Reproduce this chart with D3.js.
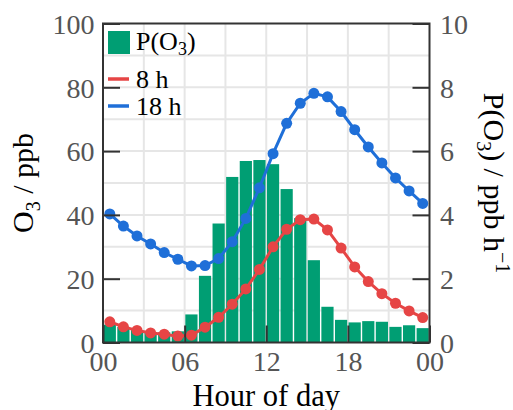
<!DOCTYPE html>
<html>
<head>
<meta charset="utf-8">
<script src="https://cdn.jsdelivr.net/npm/d3@7"></script>
<style>
  body { margin: 0; background: #fff; }
  text { font-family: "Liberation Serif", "Times New Roman", serif; }
</style>
</head>
<body>
<div id="chart"></div>
<script>
// hour of day (bin start), P(O3) bars on right axis, O3 lines on left axis
var hours = [0,1,2,3,4,5,6,7,8,9,10,11,12,13,14,15,16,17,18,19,20,21,22,23];
var pO3 = [0.56,0.49,0.39,0.33,0.32,0.35,0.88,2.09,3.73,5.19,5.69,5.72,5.59,4.81,3.9,2.58,1.12,0.71,0.63,0.67,0.65,0.49,0.54,0.45];
var o3_8h = [6.5,4.9,3.8,3.0,2.6,2.0,2.3,4.8,7.9,12.0,16.8,22.9,30.0,35.5,38.5,38.7,35.3,29.6,23.7,19.1,15.3,12.3,9.9,7.8];
var o3_18h = [40.3,36.5,33.4,30.9,28.2,26.1,24.0,24.1,26.3,31.6,38.9,48.5,59.2,68.7,75.0,78.1,77.0,72.4,66.7,61.3,56.3,51.6,47.5,43.6];

var xTicks = [0,6,12,18,24];
var xTickLabels = ["00","06","12","18","00"];
var yTicks = [0,20,40,60,80,100];
var y2Ticks = [0,2,4,6,8,10];

var green = "#009e73", red = "#e64545", blue = "#1f6fd8";

var width = 513, height = 410;
// note: "top" is a reserved window property, so prefix these
var plotLeft = 103, plotRight = 429.5, plotTop = 23.5, plotBottom = 342.5;

var svg = d3.select("#chart")
    .append("svg")
    .attr("width", width)
    .attr("height", height);

var x = d3.scaleLinear().domain([0, 24]).range([plotLeft, plotRight]);
var y = d3.scaleLinear().domain([0, 100]).range([plotBottom, plotTop]);
var y2 = d3.scaleLinear().domain([0, 10]).range([plotBottom, plotTop]);

// grid lines
svg.append("g").selectAll("line")
    .data([3,6,9,12,15,18,21])
    .enter().append("line")
    .attr("x1", function(d) { return x(d); })
    .attr("x2", function(d) { return x(d); })
    .attr("y1", plotTop).attr("y2", plotBottom)
    .style("stroke", "#e6e6e6").style("stroke-width", 2);

svg.append("g").selectAll("line")
    .data([10,20,30,40,50,60,70,80,90])
    .enter().append("line")
    .attr("x1", plotLeft).attr("x2", plotRight)
    .attr("y1", function(d) { return y(d); })
    .attr("y2", function(d) { return y(d); })
    .style("stroke", "#e6e6e6").style("stroke-width", 2);

// bars
svg.append("g").selectAll("rect")
    .data(hours)
    .enter().append("rect")
    .attr("x", function(d) { return x(d) + 0.7; })
    .attr("width", function(d) { return x(d + 1) - x(d) - 1.4; })
    .attr("y", function(d, i) { return y2(pO3[i]); })
    .attr("height", function(d, i) { return plotBottom - y2(pO3[i]); })
    .style("fill", green);

// lines with dots
function drawSeries(vals, color) {
    var line = d3.line()
        .x(function(d, i) { return x(hours[i] + 0.5); })
        .y(function(d) { return y(d); });
    svg.append("path")
        .datum(vals)
        .attr("d", line)
        .style("fill", "none")
        .style("stroke", color)
        .style("stroke-width", 3);
    svg.append("g").selectAll("circle")
        .data(vals)
        .enter().append("circle")
        .attr("cx", function(d, i) { return x(hours[i] + 0.5); })
        .attr("cy", function(d) { return y(d); })
        .attr("r", 5.5)
        .style("fill", color);
}
drawSeries(o3_8h, red);
drawSeries(o3_18h, blue);

// axes, ticks pointing inward
var axisColor = "#333", labelColor = "#555";

var gl = svg.append("g")
    .attr("transform", "translate(" + plotLeft + ",0)")
    .call(d3.axisLeft(y).tickValues(yTicks).tickSizeInner(-17).tickSizeOuter(0).tickPadding(8.5));
var gr = svg.append("g")
    .attr("transform", "translate(" + plotRight + ",0)")
    .call(d3.axisRight(y2).tickValues(y2Ticks).tickSizeInner(-17).tickSizeOuter(0).tickPadding(10.5));
var gb = svg.append("g")
    .attr("transform", "translate(0," + plotBottom + ")")
    .call(d3.axisBottom(x).tickValues(xTicks).tickSizeInner(-17).tickSizeOuter(0).tickPadding(9)
        .tickFormat(function(d, i) { return xTickLabels[i]; }));

[gl, gr, gb].forEach(function(g) {
    g.select(".domain").remove();
    g.attr("font-family", null).attr("font-size", null);
    g.selectAll(".tick line").style("stroke", axisColor).style("stroke-width", 2);
    g.selectAll(".tick text")
        .style("font-size", "28px")
        .style("fill", labelColor);
});
gl.selectAll(".tick text").attr("dy", "0.35em");
gr.selectAll(".tick text").attr("dy", "0.35em");
gb.selectAll(".tick text").attr("dy", "0.7em");

// frame
svg.append("rect")
    .attr("x", plotLeft).attr("y", plotTop)
    .attr("width", plotRight - plotLeft).attr("height", plotBottom - plotTop)
    .style("fill", "none")
    .style("stroke", axisColor)
    .style("stroke-width", 2);

// axis titles
svg.append("text")
    .attr("x", (plotLeft + plotRight) / 2)
    .attr("y", 406)
    .attr("text-anchor", "middle")
    .style("font-size", "30.5px")
    .text("Hour of day");

var lt = svg.append("text")
    .attr("transform", "translate(32.5," + (plotTop + plotBottom) / 2 + ") rotate(-90)")
    .attr("text-anchor", "middle")
    .style("font-size", "30px");
lt.append("tspan").text("O");
lt.append("tspan").attr("dy", 7).style("font-size", "20px").text("3");
lt.append("tspan").attr("dy", -7).text(" / ppb");

var rt = svg.append("text")
    .attr("transform", "translate(484," + (plotTop + plotBottom) / 2 + ") rotate(90)")
    .attr("text-anchor", "middle")
    .style("font-size", "30px");
rt.append("tspan").text("P(O");
rt.append("tspan").attr("dy", 7).style("font-size", "20px").text("3");
rt.append("tspan").attr("dy", -7).text(") / ppb h");
rt.append("tspan").attr("dy", -12).style("font-size", "20px").text("\u22121");

// legend
var lg = svg.append("g");
lg.append("rect")
    .attr("x", 108).attr("y", 31)
    .attr("width", 22).attr("height", 23)
    .style("fill", green);
var legText = lg.append("text").attr("x", 136).attr("y", 50).style("font-size", "26px");
legText.append("tspan").text("P(O");
legText.append("tspan").attr("dy", 5).style("font-size", "18px").text("3");
legText.append("tspan").attr("dy", -5).text(")");

lg.append("line")
    .attr("x1", 108).attr("x2", 129).attr("y1", 79).attr("y2", 79)
    .style("stroke", red).style("stroke-width", 3.5);
lg.append("text").attr("x", 136).attr("y", 88).style("font-size", "26px").text("8 h");

lg.append("line")
    .attr("x1", 108).attr("x2", 129).attr("y1", 106).attr("y2", 106)
    .style("stroke", blue).style("stroke-width", 3.5);
lg.append("text").attr("x", 136).attr("y", 115).style("font-size", "26px").text("18 h");
</script>
</body>
</html>
